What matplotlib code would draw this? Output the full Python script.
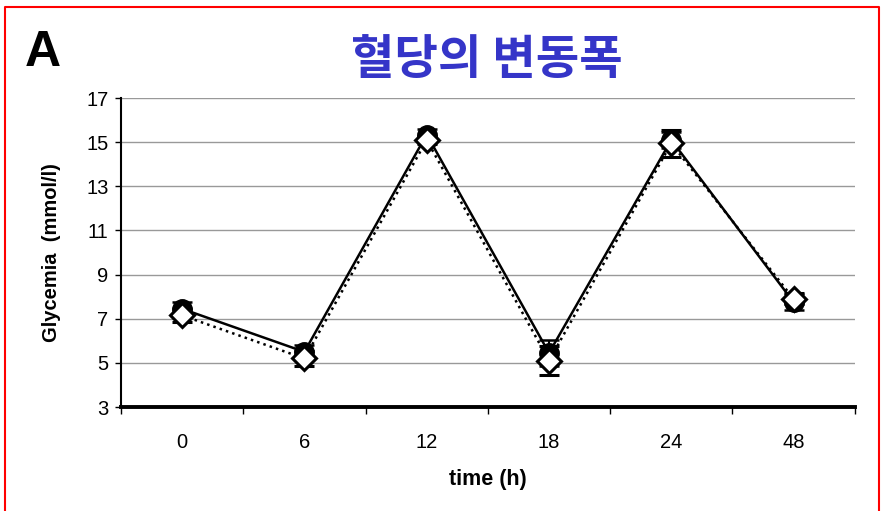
import matplotlib.pyplot as plt
import numpy as np
from matplotlib.lines import Line2D

# 시간대별 혈당 (mmol/l)
times = ['0', '6', '12', '18', '24', '48']
glyc_a = [7.45, 5.5, 15.35, 5.45, 15.1, 7.75]
err_a = [0.3, 0.3, 0.25, 0.6, 0.35, 0.35]
glyc_b = [7.15, 5.2, 15.1, 5.1, 14.95, 7.9]
err_b = [0.3, 0.35, 0.2, 0.65, 0.6, 0.25]

plt.rcParams['font.family'] = ['Liberation Sans', 'DejaVu Sans']

fig = plt.figure(figsize=(8.83, 5.11), dpi=100)
ax = fig.add_axes([0.137, 0.2035, 0.831, 0.6045])

x = np.arange(len(times))

ax.errorbar(x, glyc_a, yerr=err_a, fmt='-', color='black', lw=1.8,
            capsize=7, capthick=1.8, elinewidth=1.5,
            marker='o', ms=14, mfc='black', mec='black', zorder=3)
ax.errorbar(x, glyc_b, yerr=err_b, fmt=':', color='black', lw=1.8,
            capsize=7, capthick=1.8, elinewidth=1.5,
            marker='D', ms=12, mfc='white', mec='black', mew=2.2, zorder=4)

ax.set_xlim(-0.5, len(times) - 0.5)
ax.set_ylim(3, 17)
ax.set_yticks(np.arange(3, 18, 2))
ax.set_xticks(x)
ax.set_xticklabels(times)
ax.set_xticks(np.arange(-0.5, len(times)), minor=True)
ax.tick_params(axis='x', which='major', length=0, pad=19, labelsize=14.5)
ax.tick_params(axis='x', which='minor', length=5, width=1, direction='out')
ax.tick_params(axis='y', length=4, width=1, labelsize=14.5, pad=5)

ax.grid(axis='y', color='#999999', lw=1)
ax.set_axisbelow(True)
for s in ['top', 'right']:
    ax.spines[s].set_visible(False)
ax.spines['left'].set_linewidth(1.5)
ax.spines['bottom'].set_linewidth(2.8)

ax.set_xlabel('time (h)', fontsize=15.5, fontweight='bold', labelpad=12)
ax.set_ylabel('Glycemia  (mmol/l)', fontsize=14.5, fontweight='bold', labelpad=18)

fig.text(0.028, 0.897, 'A', fontsize=36, fontweight='bold', ha='left', va='center')
fig.text(0.551, 0.882, '혈당의 변동폭', fontsize=34, fontweight='bold', color='#3535C8',
         ha='center', va='center', family=['Noto Sans CJK KR', 'DejaVu Sans'])

# 테두리 (왼쪽, 위, 오른쪽)
fig.add_artist(Line2D([0.006, 0.006, 0.996, 0.996], [0.0, 0.986, 0.986, 0.0],
                      transform=fig.transFigure, color='red', lw=1.5))

fig.savefig('out.png', dpi=100)
